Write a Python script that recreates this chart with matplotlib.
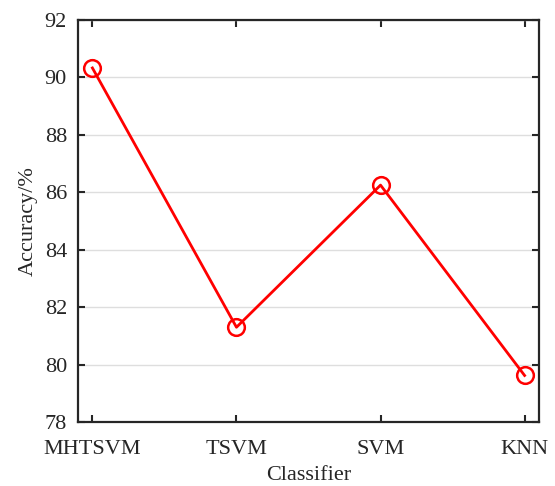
import matplotlib
matplotlib.use('Agg')
import matplotlib.pyplot as plt

classifiers = ['MHTSVM', 'TSVM', 'SVM', 'KNN']
accuracy = [90.33, 81.30, 86.25, 79.62]

plt.rcParams['font.family'] = 'Liberation Serif'
dark = '#262626'

fig = plt.figure(figsize=(5.55, 4.86), dpi=100)
ax = fig.add_axes([78/555, 1 - 422/486, 461/555, 402/486])

xs = list(range(1, len(classifiers) + 1))
ax.plot(xs, accuracy, color='red', linewidth=2, marker='o', markersize=12,
        markerfacecolor='none', markeredgewidth=1.8, zorder=3)

ax.set_xlim(0.9, 4.1)
ax.set_ylim(78, 92)
ax.set_yticks(range(78, 93, 2))
ax.set_xticks(xs)
ax.set_xticklabels(classifiers)
ax.yaxis.grid(True, color='#dedede', linewidth=1)
ax.set_axisbelow(True)

ax.tick_params(direction='in', length=5, width=1.5, colors=dark, labelsize=16,
               top=True, right=True)
ax.tick_params(axis='x', pad=13)
ax.tick_params(axis='y', pad=8)
for s in ax.spines.values():
    s.set_linewidth(1.6)
    s.set_color(dark)

ax.set_xlabel('Classifier', fontsize=16, color=dark, labelpad=5)
ax.set_ylabel('Accuracy/%', fontsize=16, color=dark, labelpad=5)

fig.savefig('out.png', dpi=100)
